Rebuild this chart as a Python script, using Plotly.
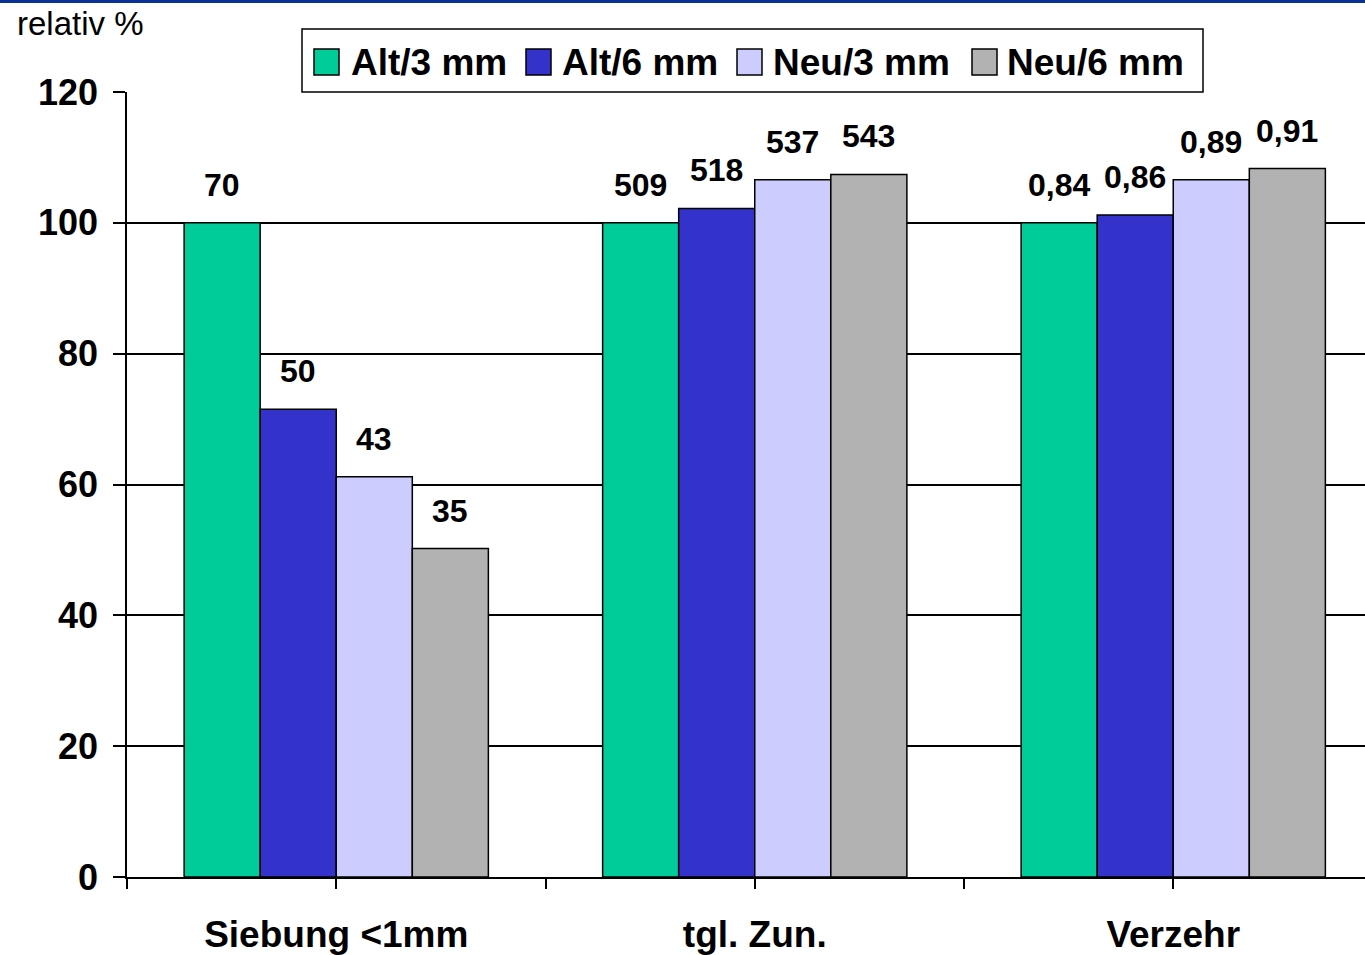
import plotly.graph_objects as go

categories = ["Siebung <1mm", "tgl. Zun.", "Verzehr"]
series_names = ["Alt/3 mm", "Alt/6 mm", "Neu/3 mm", "Neu/6 mm"]
colors = ["#00CC99", "#3333CC", "#CCCCFF", "#B2B2B2"]

# relative values (%)
alt3 = [100, 100, 100]
alt6 = [71.5, 102.2, 101.2]
neu3 = [61.2, 106.6, 106.6]
neu6 = [50.2, 107.4, 108.3]

# absolute values shown as data labels
alt3_lbl = ["70", "509", "0,84"]
alt6_lbl = ["50", "518", "0,86"]
neu3_lbl = ["43", "537", "0,89"]
neu6_lbl = ["35", "543", "0,91"]

y_ticks = [0, 20, 40, 60, 80, 100, 120]

values = [alt3, alt6, neu3, neu6]
labels = [alt3_lbl, alt6_lbl, neu3_lbl, neu6_lbl]

FONT = "Liberation Sans, Arial, sans-serif"
W, H = 1365, 955
ML, MR, MT, MB = 127, 0, 92, 78
PW = W - ML - MR
PH = H - MT - MB


def px(xp):
    return (xp - ML) / PW


def py(yp):
    return (H - MB - yp) / PH


xpos = list(range(len(categories)))
bargap = 0.273
nser = len(series_names)
bw = (1 - bargap) / nser

fig = go.Figure()
for i, name in enumerate(series_names):
    fig.add_trace(go.Bar(
        x=xpos, y=values[i], name=name,
        marker=dict(color=colors[i], line=dict(color="black", width=1.5)),
        showlegend=False,
    ))

annotations = []
for i in range(nser):
    for j in range(len(categories)):
        annotations.append(dict(
            x=xpos[j] + (i - (nser - 1) / 2) * bw, y=values[i][j],
            xref="x", yref="y", text="<b>%s</b>" % labels[i][j],
            showarrow=False, yanchor="bottom", yshift=18,
            font=dict(family=FONT, size=32, color="black"),
        ))

annotations.append(dict(
    x=px(15), y=py(23), xref="paper", yref="paper",
    xanchor="left", yanchor="middle", text="relativ %", showarrow=False,
    font=dict(family=FONT, size=33, color="black"),
))

shapes = [dict(type="line", xref="paper", yref="paper",
               x0=px(0), x1=1, y0=py(1.5), y1=py(1.5),
               line=dict(color="#0A3296", width=3))]

# custom legend box (positions in pixels)
shapes.append(dict(type="rect", xref="paper", yref="paper",
                   x0=px(302), x1=px(1203), y0=py(92), y1=py(29),
                   fillcolor="white", line=dict(color="black", width=1.5),
                   layer="above"))
sq_left = [314, 526, 737, 972]
txt_left = [349, 560, 771, 1005]
for i, name in enumerate(series_names):
    shapes.append(dict(type="rect", xref="paper", yref="paper",
                       x0=px(sq_left[i]), x1=px(sq_left[i] + 25),
                       y0=py(75), y1=py(49),
                       fillcolor=colors[i], line=dict(color="black", width=1.5),
                       layer="above"))
    annotations.append(dict(
        x=px(txt_left[i]), y=py(62), xref="paper", yref="paper",
        xanchor="left", yanchor="middle", text="<b>%s</b>" % name,
        showarrow=False, font=dict(family=FONT, size=37, color="black"),
    ))

fig.update_layout(
    width=W, height=H,
    margin=dict(l=ML, r=MR, t=MT, b=MB, autoexpand=False),
    paper_bgcolor="white", plot_bgcolor="white",
    barmode="group", bargap=bargap, bargroupgap=0,
    font=dict(family=FONT, color="black"),
    annotations=annotations, shapes=shapes, showlegend=False,
)

fig.update_xaxes(
    range=[-0.5, -0.5 + PW / 418.5], tickvals=xpos,
    ticktext=["<b>%s</b>" % c for c in categories],
    tickfont=dict(family=FONT, size=37, color="black"),
    showline=True, linecolor="black", linewidth=1.5,
    ticks="outside", ticklen=10, tickwidth=1.5, tickcolor="black",
    minor=dict(ticks="outside", ticklen=10, tickwidth=1.5, tickcolor="black",
               tickvals=[x - 0.5 for x in xpos] + [xpos[-1] + 0.5]),
    showgrid=False, zeroline=False, ticklabelstandoff=14, automargin=False,
)
fig.update_yaxes(
    range=[0, 120], tickvals=y_ticks,
    ticktext=["<b>%d</b>" % t for t in y_ticks],
    tickfont=dict(family=FONT, size=36, color="black"),
    showline=True, linecolor="black", linewidth=1.5,
    ticks="outside", ticklen=12, tickwidth=1.5, tickcolor="black",
    showgrid=True, gridcolor="black", gridwidth=1.5, zeroline=False,
    ticklabelstandoff=8, automargin=False,
)

fig.write_html(
    "out.html",
    config={"displayModeBar": False},
    post_script="document.body.style.margin='0';document.body.style.overflow='hidden';",
)
